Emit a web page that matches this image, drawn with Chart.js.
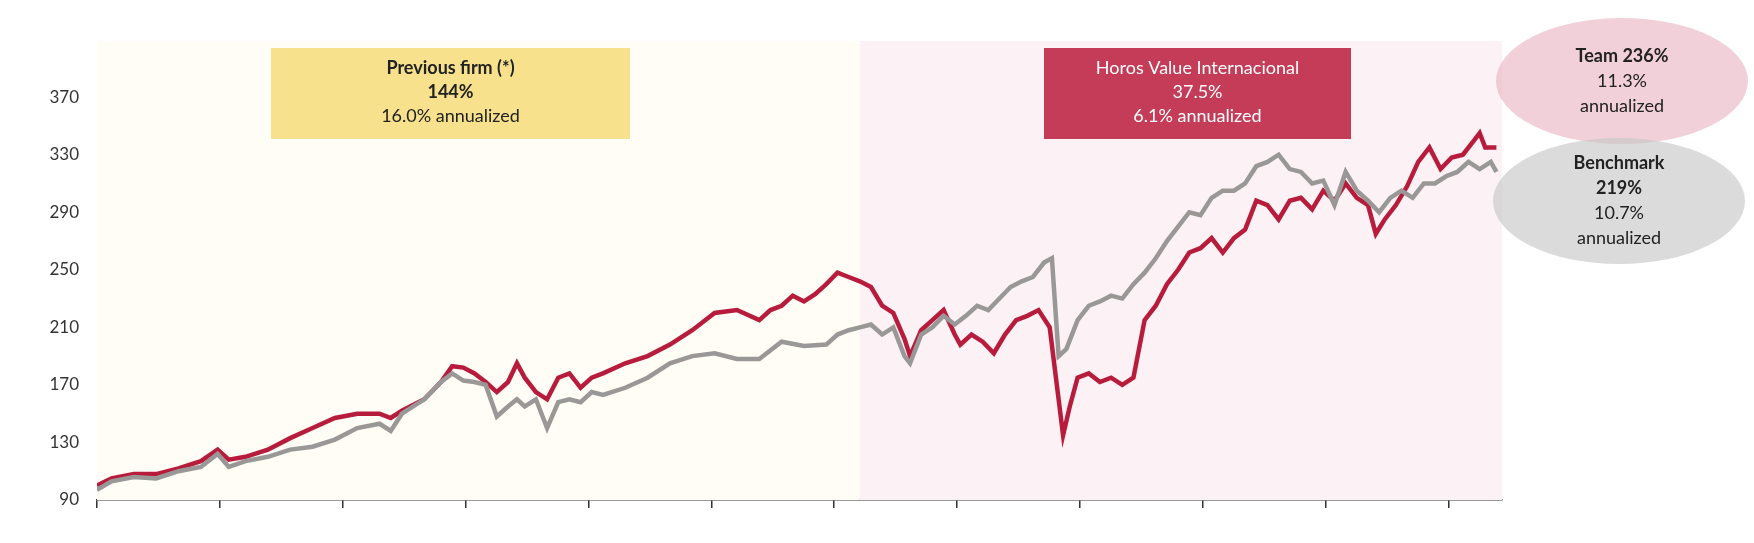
<!DOCTYPE html>
<html><head><meta charset="utf-8">
<script src="https://cdn.jsdelivr.net/npm/chart.js@4"></script>
<style>html,body{margin:0;background:#fff}#c{display:block}</style>
</head><body><canvas id="c" width="1754" height="543"></canvas>
<script>
// x positions are in an arbitrary time unit (ticks every 110 units from 87)
const teamX = [87,100,120,140,160,180,195,205,220,240,260,280,300,320,340,350,360,380,395,405,415,425,435,445,455,463,470,480,490,500,510,520,530,540,560,580,600,620,640,660,680,690,700,710,720,730,740,750,760,770,780,790,800,810,815,825,835,845,855,860,870,880,890,900,910,920,930,940,948,952,958,965,975,985,995,1005,1015,1025,1035,1045,1055,1065,1075,1085,1095,1105,1115,1125,1135,1145,1155,1165,1175,1185,1195,1205,1215,1225,1232,1240,1250,1260,1270,1280,1290,1300,1310,1320,1325,1330,1340];
const teamY = [100,105,108,108,112,117,125,118,120,125,133,140,147,150,150,147,152,160,172,183,182,178,172,165,172,185,175,165,160,175,178,168,175,178,185,190,198,208,220,222,215,222,225,232,228,233,240,248,245,242,238,225,220,202,190,208,215,222,205,198,205,200,192,205,215,218,222,210,160,135,155,175,178,172,175,170,175,215,225,240,250,262,265,272,262,272,278,298,295,285,298,300,292,305,298,310,300,295,275,285,295,308,325,335,320,328,330,340,345,335,335];
const benchX = [87,100,120,140,160,180,195,205,220,240,260,280,300,320,340,350,360,380,395,405,415,425,435,445,455,463,470,480,490,500,510,520,530,540,560,580,600,620,640,660,680,700,720,740,750,760,770,780,790,800,810,815,825,835,845,855,865,875,885,895,905,915,925,935,942,948,955,965,975,985,995,1005,1015,1025,1035,1045,1055,1065,1075,1085,1095,1105,1115,1125,1135,1145,1155,1165,1175,1185,1195,1205,1215,1225,1235,1245,1255,1265,1275,1285,1295,1305,1315,1325,1335,1340];
const benchY = [97,103,106,105,110,113,122,113,117,120,125,127,132,140,143,138,150,160,172,178,173,172,170,148,155,160,155,160,140,158,160,158,165,163,168,175,185,190,192,188,188,200,197,198,205,208,210,212,205,210,190,185,205,210,218,212,218,225,222,230,238,242,245,255,258,190,195,215,225,228,232,230,240,248,258,270,280,290,288,300,305,305,310,322,325,330,320,318,310,312,295,318,305,298,290,300,305,300,310,310,315,318,325,320,325,318];
const yTicks = [90,130,170,210,250,290,330,370];
const xTicks = [87,197,307,417,527,637,747,857,967,1077,1187,1297];
const splitX = 770;
const boxes = [
  {x0:271,x1:630,bg:'#f7e18c',fg:'#222',lines:[['Previous firm (*)',true],['144%',true],['16.0% annualized',false]]},
  {x0:1044,x1:1351,bg:'#c43c58',fg:'#fff',lines:[['Horos Value Internacional',false],['37.5%',false],['6.1% annualized',false]]}
];
const bubbles = [
  {cx:1622,cy:81,bg:'rgba(230,170,185,0.55)',lines:[['Team 236%',true],['11.3%',false],['annualized',false]]},
  {cx:1619,cy:201,bg:'rgba(200,200,200,0.65)',lines:[['Benchmark',true],['219%',true],['10.7%',false],['annualized',false]]}
];
const FONT = 'Lato, "Open Sans", sans-serif';
const deco = {
  id:'deco',
  beforeDatasetsDraw(ch){
    const c=ch.ctx,x=ch.scales.x,y=ch.scales.y,a=ch.chartArea;
    const xs=x.getPixelForValue(splitX);
    c.save();
    c.fillStyle='#fffdf6';c.fillRect(a.left,a.top,xs-a.left,a.bottom-a.top);
    c.fillStyle='#fcf1f4';c.fillRect(xs,a.top,a.right-xs,a.bottom-a.top);
    c.restore();
  },
  afterDraw(ch){
    const c=ch.ctx;c.save();c.textAlign='center';c.textBaseline='middle';
    for(const b of boxes){
      c.fillStyle=b.bg;c.fillRect(b.x0,48,b.x1-b.x0,91);
      c.fillStyle=b.fg;
      b.lines.forEach((l,i)=>{c.font=(l[1]?'bold ':'')+'18px '+FONT;c.fillText(l[0],(b.x0+b.x1)/2,68+i*24);});
    }
    for(const b of bubbles){
      c.fillStyle=b.bg;c.beginPath();c.ellipse(b.cx,b.cy,126,63,0,0,Math.PI*2);c.fill();
      c.fillStyle='#222';
      const n=b.lines.length,st=b.cy-(n-1)*12.5;
      b.lines.forEach((l,i)=>{c.font=(l[1]?'bold ':'')+'18px '+FONT;c.fillText(l[0],b.cx,st+i*25);});
    }
    c.restore();
  }
};
new Chart(document.getElementById('c'),{
  type:'line',
  data:{datasets:[
    {data:benchX.map((v,i)=>({x:v,y:benchY[i]})),borderColor:'#999896',borderWidth:4.5,pointRadius:0,tension:0},
    {data:teamX.map((v,i)=>({x:v,y:teamY[i]})),borderColor:'#b81c3c',borderWidth:4.5,pointRadius:0,tension:0}
  ]},
  options:{responsive:false,animation:false,
    layout:{padding:{top:41,right:252,bottom:35,left:0}},
    plugins:{legend:{display:false},tooltip:{enabled:false}},
    scales:{
      x:{type:'linear',min:87,max:1345,
        afterBuildTicks:s=>{s.ticks=xTicks.map(v=>({value:v}));},
        ticks:{display:false},
        grid:{drawOnChartArea:false,tickLength:8,color:'#333',lineWidth:1.5},
        border:{color:'#333',width:1.5}},
      y:{min:90,max:409,
        afterBuildTicks:s=>{s.ticks=yTicks.map(v=>({value:v}));},
        afterFit:s=>{s.width=97;},
        ticks:{color:'#333',font:{size:17,family:FONT},padding:10},
        grid:{display:false},border:{display:false}}
    }
  },
  plugins:[deco]
});
</script></body></html>
